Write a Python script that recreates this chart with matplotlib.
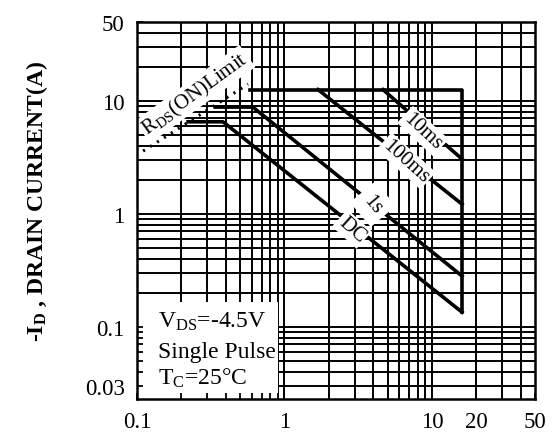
import matplotlib
matplotlib.use('Agg')
import matplotlib.pyplot as plt
from matplotlib.patches import Rectangle

plt.rcParams['font.family'] = ['Liberation Serif', 'DejaVu Serif']
plt.rcParams['mathtext.fontset'] = 'custom'
plt.rcParams['mathtext.rm'] = 'Liberation Serif'
plt.rcParams['mathtext.it'] = 'Liberation Serif:italic'
plt.rcParams['mathtext.bf'] = 'Liberation Serif:bold'

# safe operating area
rds_v = [0.11, 0.566]
rds_i = [3.6, 14.1]

edge_v = [0.58, 16.0, 16.0]
edge_i = [12.6, 12.6, 0.135]

ms10_v = [4.66, 16.0]
ms10_i = [12.6, 3.06]

ms100_v = [1.69, 16.0]
ms100_i = [12.6, 1.22]

s1_v = [0.34, 0.61, 16.0]
s1_i = [8.83, 8.83, 0.282]

dc_v = [0.222, 0.383, 16.0]
dc_i = [6.54, 6.54, 0.135]

xtick_vals = [0.1, 1, 10, 20, 50]
xtick_labels = ['0.1', '1', '10', '20', '50']
ytick_vals = [0.03, 0.1, 1, 10, 50]
ytick_labels = ['0.03', '0.1', '1', '10', '50']

xlim = (0.1, 50)
ylim = (0.023, 50)

fig = plt.figure(figsize=(5.54, 4.35), dpi=100)
ax = fig.add_axes([137 / 554, 35 / 435, 398 / 554, 377 / 435])
ax.set_xscale('log')
ax.set_yscale('log')
ax.set_xlim(*xlim)
ax.set_ylim(*ylim)

# heavy datasheet grid
xg = [m * 10.0 ** e for e in range(-1, 2) for m in range(1, 10)]
yg = [m * 10.0 ** e for e in range(-2, 2) for m in range(1, 10)]
for v in xg:
    if xlim[0] < v < xlim[1]:
        ax.axvline(v, color='black', lw=1.4, zorder=1)
for v in yg:
    if ylim[0] < v < ylim[1]:
        ax.axhline(v, color='black', lw=1.4, zorder=1)

# white box for the conditions
ax.add_patch(Rectangle((0, 0), 0.354, 0.257, transform=ax.transAxes,
                       facecolor='white', edgecolor='none', zorder=1.5))

lw = 2.6
ax.plot(rds_v, rds_i, color='black', lw=2.2, linestyle=(0, (0.7, 2.0)), zorder=3)
ax.plot(edge_v, edge_i, color='black', lw=lw, zorder=3)
ax.plot(ms10_v, ms10_i, color='black', lw=lw, zorder=3)
ax.plot(ms100_v, ms100_i, color='black', lw=lw, zorder=3)
ax.plot(s1_v, s1_i, color='black', lw=lw, zorder=3)
ax.plot(dc_v, dc_i, color='black', lw=lw, zorder=3)

box = dict(facecolor='white', edgecolor='none', pad=1.5)
ax.text(0.247, 11.5, r'R$_\mathrm{DS}$(ON)Limit', fontsize=15, rotation=36,
        ha='center', va='center', bbox=box, zorder=4)
ax.text(8.69, 5.41, '10ms', fontsize=15, rotation=-43,
        ha='center', va='center', bbox=box, zorder=4)
ax.text(6.67, 2.94, '100ms', fontsize=15, rotation=-42,
        ha='center', va='center', bbox=box, zorder=4)
ax.text(3.98, 1.22, '1s', fontsize=15, rotation=-50,
        ha='center', va='center', bbox=dict(facecolor='white', edgecolor='none', pad=5), zorder=4)
ax.text(2.87, 0.735, 'DC', fontsize=15, rotation=-42,
        ha='center', va='center', bbox=box, zorder=4)

ax.text(0.053, 0.207, r'V$_\mathrm{DS}$=-4.5V', fontsize=17, transform=ax.transAxes,
        va='center', ha='left', zorder=4)
ax.text(0.053, 0.127, 'Single Pulse', fontsize=17, transform=ax.transAxes,
        va='center', ha='left', zorder=4)
ax.text(0.053, 0.058, r'T$_\mathrm{C}$=25°C', fontsize=17, transform=ax.transAxes,
        va='center', ha='left', zorder=4)

ax.set_xticks(xtick_vals)
ax.set_xticklabels(xtick_labels)
ax.set_yticks(ytick_vals)
ax.set_yticklabels(ytick_labels)
ax.tick_params(which='both', direction='in', color='black', width=1.3)
ax.tick_params(which='major', length=4, labelsize=16.5)
ax.tick_params(which='minor', length=4)
ax.tick_params(axis='x', which='major', pad=9)
ax.tick_params(axis='y', which='major', pad=9)
for sp in ax.spines.values():
    sp.set_linewidth(1.8)
    sp.set_zorder(5)

fig.text(37 / 554, 1 - 201 / 435, r'-I$_\mathbf{D}$ , DRAIN CURRENT(A)', rotation=90,
         fontsize=17, fontweight='bold', ha='center', va='center')

fig.savefig('out.png', dpi=100)
